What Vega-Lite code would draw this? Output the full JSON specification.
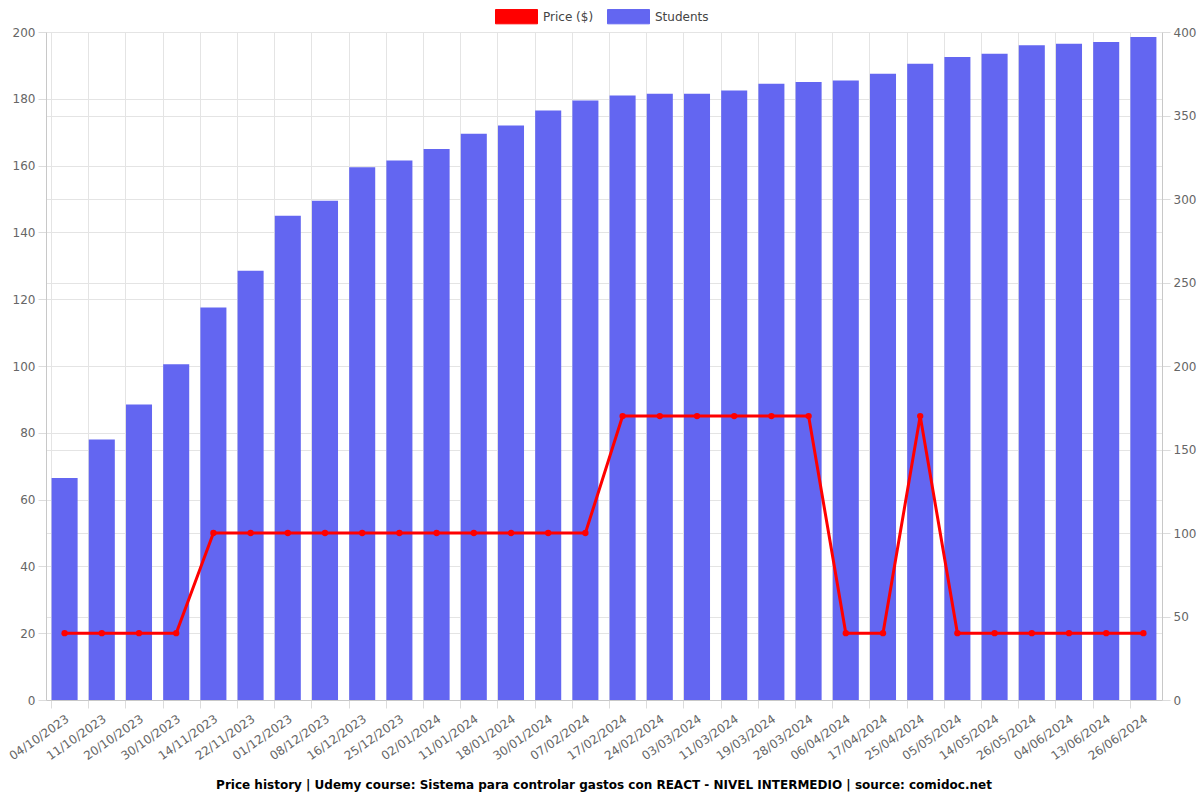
{
  "$schema": "https://vega.github.io/schema/vega-lite/v6.json",
  "width": 1116,
  "height": 668,
  "autosize": {"type": "none"},
  "padding": {"left": 46, "top": 32, "right": 38, "bottom": 100},
  "background": "white",
  "title": {
    "text": "Price history | Udemy course: Sistema para controlar gastos con REACT - NIVEL INTERMEDIO | source: comidoc.net",
    "orient": "bottom",
    "anchor": "middle",
    "font": "DejaVu Sans",
    "fontSize": 12,
    "fontWeight": "bold",
    "color": "#000000",
    "offset": 18
  },
  "config": {
    "view": {"stroke": null},
    "axis": {
      "labelFont": "DejaVu Sans",
      "labelFontSize": 12,
      "labelColor": "#666666",
      "gridColor": "#e4e4e4",
      "domainColor": "#c8c8c8",
      "tickColor": "#dcdcdc",
      "tickSize": 8,
      "labelPadding": 3
    },
    "legend": {
      "labelFont": "DejaVu Sans",
      "labelFontSize": 12,
      "labelColor": "#444444"
    }
  },
  "data": {
    "values": [
      {"date": "04/10/2023", "price": 20, "students": 133},
      {"date": "11/10/2023", "price": 20, "students": 156},
      {"date": "20/10/2023", "price": 20, "students": 177},
      {"date": "30/10/2023", "price": 20, "students": 201},
      {"date": "14/11/2023", "price": 50, "students": 235},
      {"date": "22/11/2023", "price": 50, "students": 257},
      {"date": "01/12/2023", "price": 50, "students": 290},
      {"date": "08/12/2023", "price": 50, "students": 299},
      {"date": "16/12/2023", "price": 50, "students": 319},
      {"date": "25/12/2023", "price": 50, "students": 323},
      {"date": "02/01/2024", "price": 50, "students": 330},
      {"date": "11/01/2024", "price": 50, "students": 339},
      {"date": "18/01/2024", "price": 50, "students": 344},
      {"date": "30/01/2024", "price": 50, "students": 353},
      {"date": "07/02/2024", "price": 50, "students": 359},
      {"date": "17/02/2024", "price": 85, "students": 362},
      {"date": "24/02/2024", "price": 85, "students": 363},
      {"date": "03/03/2024", "price": 85, "students": 363},
      {"date": "11/03/2024", "price": 85, "students": 365},
      {"date": "19/03/2024", "price": 85, "students": 369},
      {"date": "28/03/2024", "price": 85, "students": 370},
      {"date": "06/04/2024", "price": 20, "students": 371},
      {"date": "17/04/2024", "price": 20, "students": 375},
      {"date": "25/04/2024", "price": 85, "students": 381},
      {"date": "05/05/2024", "price": 20, "students": 385},
      {"date": "14/05/2024", "price": 20, "students": 387},
      {"date": "26/05/2024", "price": 20, "students": 392},
      {"date": "04/06/2024", "price": 20, "students": 393},
      {"date": "13/06/2024", "price": 20, "students": 394},
      {"date": "26/06/2024", "price": 20, "students": 397}
    ]
  },
  "layer": [
    {
      "mark": {"type": "bar"},
      "encoding": {
        "x": {
          "field": "date",
          "type": "ordinal",
          "sort": null,
          "scale": {"paddingInner": 0.3, "paddingOuter": 0.15},
          "axis": {"title": null, "orient": "bottom", "labels": false, "bandPosition": 0, "grid": true, "ticks": true, "domain": true}
        },
        "y": {
          "field": "students",
          "type": "quantitative",
          "scale": {"domain": [0, 400], "nice": false},
          "axis": {"title": null, "orient": "right", "values": [0, 50, 100, 150, 200, 250, 300, 350, 400], "grid": true, "domain": true}
        },
        "color": {
          "datum": "Students",
          "scale": {"domain": ["Price ($)", "Students"], "range": ["#ff0000", "#6366f1"]},
          "legend": {
            "title": null,
            "orient": "none",
            "direction": "horizontal",
            "legendX": 449,
            "legendY": -37,
            "symbolType": "M-1,-0.34L1,-0.34L1,0.34L-1,0.34Z",
            "symbolSize": 1764,
            "symbolStrokeWidth": 1,
            "symbolOpacity": 1,
            "labelOffset": 5,
            "columnPadding": 11,
            "encode": {
              "symbols": {"update": {"fill": {"scale": "color", "field": "value"}, "stroke": {"scale": "color", "field": "value"}, "opacity": {"value": 1}}}
            }
          }
        }
      }
    },
    {
      "mark": {"type": "line", "strokeWidth": 3, "point": {"filled": true, "size": 40, "opacity": 1}},
      "encoding": {
        "x": {
          "field": "date",
          "type": "ordinal",
          "sort": null,
          "axis": {"title": null, "orient": "bottom", "labelAngle": -35, "labelAlign": "right", "labelBaseline": "top", "ticks": false, "domain": false, "grid": false, "labelPadding": 13}
        },
        "y": {
          "field": "price",
          "type": "quantitative",
          "scale": {"domain": [0, 200], "nice": false},
          "axis": {"title": null, "orient": "left", "values": [0, 20, 40, 60, 80, 100, 120, 140, 160, 180, 200], "grid": true, "domain": true}
        },
        "color": {"datum": "Price ($)"}
      }
    }
  ],
  "resolve": {"scale": {"y": "independent"}, "axis": {"x": "independent"}}
}
